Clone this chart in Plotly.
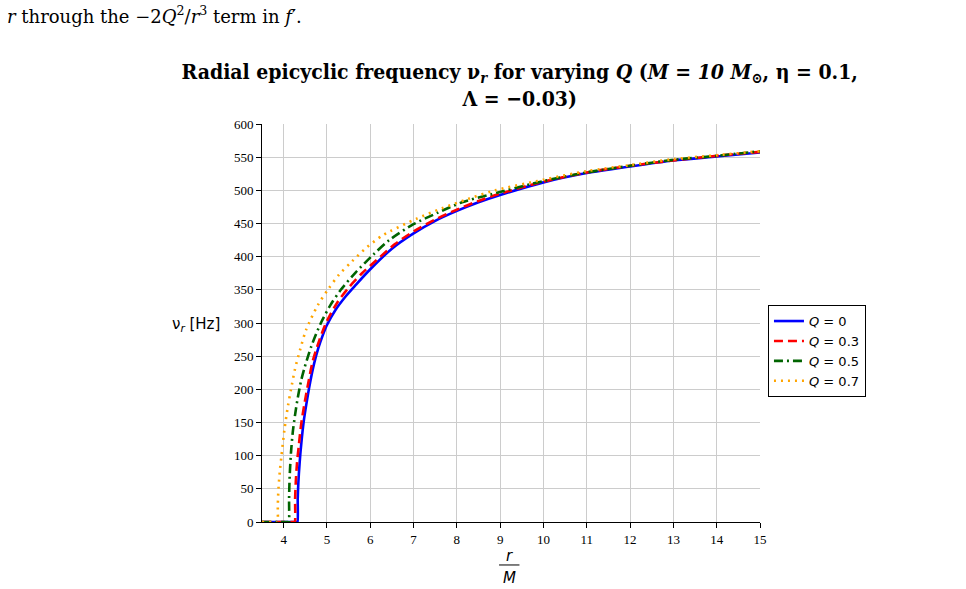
import plotly.graph_objects as go

# ---- data ----
r_q0 = [3.5, 4.31, 4.32, 4.325, 4.34, 4.37, 4.41, 4.46, 4.53, 4.61, 4.70, 4.80, 4.90, 5.0, 5.2, 5.43, 5.66, 6.0, 6.5, 7.0, 7.5, 8.0, 8.5, 9.0, 10, 11, 12, 13, 14, 15]
v_q0 = [0, 0, 0, 35, 60, 90, 120, 150, 180, 210, 238, 262, 281, 297, 320, 340, 357, 381, 412, 435, 454, 469, 482, 493, 512, 526, 536, 545, 551, 557]

r_q3 = [3.5, 4.25, 4.26, 4.265, 4.28, 4.31, 4.35, 4.40, 4.48, 4.57, 4.67, 4.83, 5.0, 5.24, 5.51, 5.81, 6.15, 6.57, 7.0, 7.5, 8.0, 8.5, 9.0, 10, 11, 12, 13, 14, 15]
v_q3 = [0, 0, 0, 35, 60, 90, 115, 145, 178, 210, 242, 275, 303, 331, 354, 375, 395, 419, 438, 456, 471, 484, 495, 513, 527, 537, 545, 552, 558]

r_q5 = [3.5, 4.11, 4.12, 4.125, 4.14, 4.17, 4.21, 4.26, 4.32, 4.40, 4.48, 4.64, 4.86, 5.09, 5.32, 5.66, 6.07, 6.44, 7.0, 7.55, 8.12, 8.8, 10, 11, 12, 13, 14, 15]
v_q5 = [0, 0, 0, 35, 70, 105, 135, 160, 185, 212, 232, 265, 300, 328, 350, 376, 403, 425, 449, 466, 482, 494, 514, 527, 537, 546, 552, 559]

r_q7 = [3.5, 3.85, 3.86, 3.865, 3.88, 3.91, 3.95, 4.02, 4.10, 4.17, 4.26, 4.39, 4.52, 4.79, 5.04, 5.28, 5.58, 5.92, 6.26, 6.45, 7.06, 7.66, 8.26, 8.88, 10, 11, 12, 13, 14, 15]
v_q7 = [0, 0, 0, 25, 50, 75, 100, 140, 175, 200, 230, 262, 290, 327, 352, 373, 393, 414, 431, 438, 457, 473, 487, 500, 516, 529, 538, 547, 553, 559]

names = ["<i>Q</i> = 0", "<i>Q</i> = 0.3", "<i>Q</i> = 0.5", "<i>Q</i> = 0.7"]
colors = ["blue", "red", "darkgreen", "orange"]
dashes = ["solid", "9px,5px", "9px,4px,2px,4px", "2px,5px"]

x_ticks = list(range(4, 16))
y_ticks = list(range(0, 601, 50))

fig = go.Figure()
for r, v, n, c, d in zip([r_q0, r_q3, r_q5, r_q7], [v_q0, v_q3, v_q5, v_q7], names, colors, dashes):
    fig.add_trace(go.Scatter(x=r, y=v, mode="lines", name=n,
                             line=dict(color=c, width=2.6, dash=d, shape="spline", smoothing=0.8)))

serif = "Liberation Serif"
fig.update_layout(
    width=966, height=589,
    margin=dict(l=262, r=206, t=124, b=67),
    paper_bgcolor="white", plot_bgcolor="white",
    title=dict(
        text="<b>Radial epicyclic frequency ν<sub><i>r</i></sub> for varying <i>Q</i> (<i>M</i> = <i>10 M</i><sub>⊙</sub>, η = 0.1,<br>Λ = −0.03)</b>",
        x=0.538, xanchor="center", y=0.866, yanchor="middle",
        font=dict(family="DejaVu Serif Condensed, DejaVu Serif", size=21, color="black")),
    showlegend=True,
    legend=dict(x=1.016, y=0.545, xanchor="left", yanchor="top",
                bgcolor="white", bordercolor="black", borderwidth=1,
                font=dict(family="DejaVu Sans", size=13, color="black"),
                itemwidth=30, tracegroupgap=0),
    xaxis=dict(range=[3.5, 15], tickvals=x_ticks, ticktext=[str(t) for t in x_ticks],
               showgrid=True, gridcolor="#cccccc", gridwidth=1,
               showline=True, linecolor="black", linewidth=1,
               ticks="outside", ticklen=5, tickcolor="black",
               tickfont=dict(family=serif, size=13, color="black"),
               zeroline=False),
    yaxis=dict(range=[0, 600], tickvals=y_ticks, ticktext=[str(t) for t in y_ticks],
               showgrid=True, gridcolor="#cccccc", gridwidth=1,
               showline=True, linecolor="black", linewidth=1,
               ticks="outside", ticklen=5, tickcolor="black",
               tickfont=dict(family=serif, size=13, color="black"),
               zeroline=False),
)

# y-axis title (horizontal)
fig.add_annotation(text="ν<sub><i>r</i></sub> [Hz]", xref="paper", yref="paper",
                   x=-0.132, y=0.497, xanchor="center", yanchor="middle", showarrow=False,
                   font=dict(family="DejaVu Sans", size=15, color="black"))
# x-axis title as a fraction r / M
fig.add_annotation(text="<i>r</i>", xref="paper", yref="paper", x=0.497, y=-0.085,
                   xanchor="center", yanchor="middle", showarrow=False,
                   font=dict(family="DejaVu Sans", size=15, color="black"))
fig.add_annotation(text="<i>M</i>", xref="paper", yref="paper", x=0.497, y=-0.14,
                   xanchor="center", yanchor="middle", showarrow=False,
                   font=dict(family="DejaVu Sans", size=15, color="black"))
fig.add_shape(type="line", xref="paper", yref="paper", x0=0.476, x1=0.517,
              y0=-0.108, y1=-0.108, line=dict(color="black", width=1))

# document text fragment above the figure
fig.add_annotation(text="<i>r</i> through the −2<i>Q</i><sup>2</sup>/<i>r</i><sup>3</sup> term in <i>f</i>′.",
                   xref="paper", yref="paper", x=-0.517, y=1.274, xanchor="left", yanchor="middle",
                   showarrow=False, font=dict(family="DejaVu Serif", size=18, color="black"))

fig.write_html("out.html")
